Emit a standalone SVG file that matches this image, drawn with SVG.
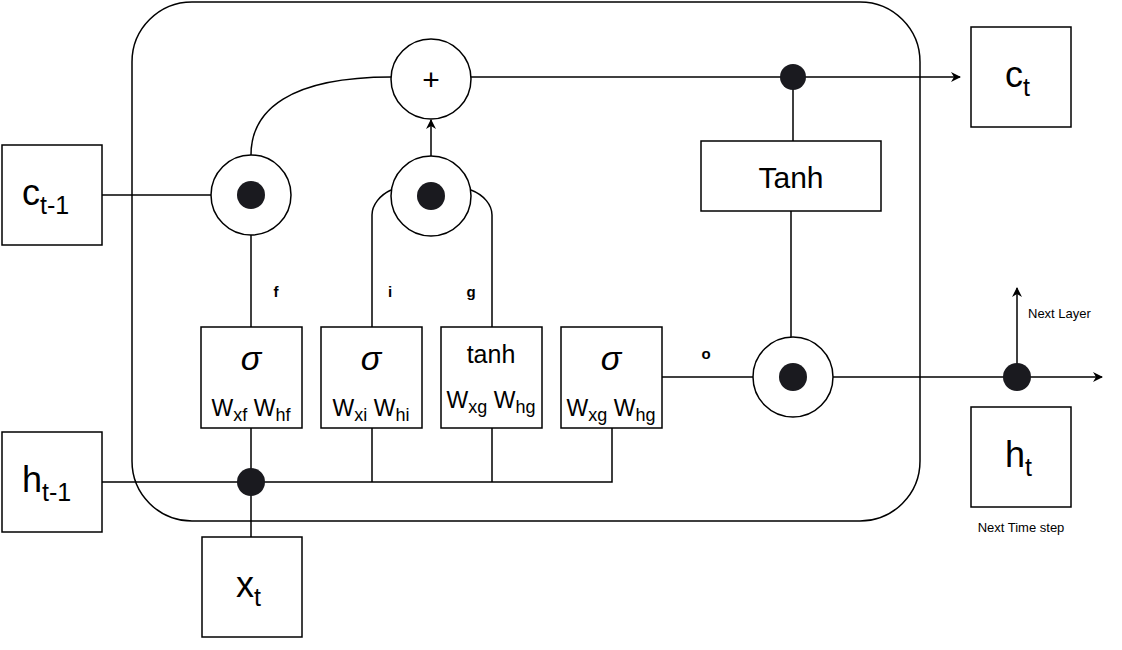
<svg xmlns="http://www.w3.org/2000/svg" width="1122" height="650" viewBox="0 0 1122 650">
<style>
.s{fill:#fff;stroke:#000;stroke-width:1.5}
.l{fill:none;stroke:#000;stroke-width:1.5}
.d{fill:#1a1a1f}
text{font-family:"Liberation Sans",Arial,sans-serif;fill:#000}
.b{font-size:36px}
.m{font-size:23px}
.g{font-size:34px;font-style:italic}
.sm{font-size:15px;font-weight:bold}
.t{font-size:13px}
</style>
<defs><marker id="a" markerWidth="10" markerHeight="10" refX="9" refY="5" orient="auto" markerUnits="userSpaceOnUse"><path d="M0,0 L10,5 L0,10 L3,5 Z" fill="#000"/></marker></defs>
<rect x="132" y="2" width="788" height="519" rx="60" class="s"/>
<g id="connectors" class="l">
<path d="M102,195 H211"/>
<path d="M251,155 C251,110 290,77 391,77"/>
<path d="M431,156 V120" marker-end="url(#a)"/>
<path d="M372,327 V215 C372,205 380,195 391,190"/>
<path d="M492,327 V215 C492,205 484,195 471,190"/>
<path d="M251,327 V235"/>
<path d="M471,77 H960" marker-end="url(#a)"/>
<path d="M793,77 V141 M791,211 V337"/>
<path d="M102,482 H612 V428 M372,428 V482 M492,428 V482 M251,428 V537"/>
<path d="M662,377 H753"/>
<path d="M833,377 H1102" marker-end="url(#a)"/>
<path d="M1017,377 V288" marker-end="url(#a)"/>
</g>
<g id="cprev"><rect x="2" y="145" width="100" height="100" class="s"/><text x="22" y="205" class="b">c<tspan font-size="25" dy="9">t-1</tspan></text></g>
<g id="hprev"><rect x="2" y="432" width="100" height="100" class="s"/><text x="22" y="492" class="b">h<tspan font-size="25" dy="9">t-1</tspan></text></g>
<g id="xt"><rect x="202" y="537" width="100" height="100" class="s"/><text x="236" y="597" class="b">x<tspan font-size="25" dy="9">t</tspan></text></g>
<g id="ct"><rect x="971" y="27" width="100" height="100" class="s"/><text x="1005" y="87" class="b">c<tspan font-size="25" dy="9">t</tspan></text></g>
<g id="ht"><rect x="971" y="407" width="100" height="100" class="s"/><text x="1005" y="467" class="b">h<tspan font-size="25" dy="9">t</tspan></text></g>
<g id="plus"><circle cx="431" cy="79" r="40" class="s"/><text x="431" y="90" text-anchor="middle" font-size="30">+</text></g>
<g id="mulf"><circle cx="251" cy="195" r="40" class="s"/><circle cx="251" cy="195" r="14" class="d"/></g>
<g id="muli"><circle cx="431" cy="196" r="40" class="s"/><circle cx="431" cy="196" r="14" class="d"/></g>
<g id="mulo"><circle cx="793" cy="377" r="40" class="s"/><circle cx="793" cy="377" r="14" class="d"/></g>
<g id="dots"><circle cx="793" cy="77" r="13" class="d"/><circle cx="251" cy="482" r="14" class="d"/><circle cx="1017" cy="377" r="14" class="d"/></g>
<g id="tanhbox"><rect x="701" y="141" width="180" height="70" class="s"/><text x="791" y="188" text-anchor="middle" font-size="30">Tanh</text></g>
<g id="fgate"><rect x="201" y="327" width="101" height="101" class="s"/><text x="251" y="370" text-anchor="middle" class="g">σ</text><text x="251" y="416" text-anchor="middle" class="m">W<tspan font-size="18" dy="5">xf</tspan><tspan dy="-5"> W</tspan><tspan font-size="18" dy="5">hf</tspan></text></g>
<g id="igate"><rect x="321" y="327" width="101" height="101" class="s"/><text x="371" y="370" text-anchor="middle" class="g">σ</text><text x="371" y="416" text-anchor="middle" class="m">W<tspan font-size="18" dy="5">xi</tspan><tspan dy="-5"> W</tspan><tspan font-size="18" dy="5">hi</tspan></text></g>
<g id="ggate"><rect x="441" y="327" width="101" height="101" class="s"/><text x="491" y="363" text-anchor="middle" font-size="25">tanh</text><text x="491" y="408" text-anchor="middle" class="m">W<tspan font-size="18" dy="5">xg</tspan><tspan dy="-5"> W</tspan><tspan font-size="18" dy="5">hg</tspan></text></g>
<g id="ogate"><rect x="561" y="327" width="101" height="101" class="s"/><text x="611" y="370" text-anchor="middle" class="g">σ</text><text x="611" y="416" text-anchor="middle" class="m">W<tspan font-size="18" dy="5">xg</tspan><tspan dy="-5"> W</tspan><tspan font-size="18" dy="5">hg</tspan></text></g>
<g id="labels">
<text x="276" y="297" class="sm" text-anchor="middle">f</text>
<text x="390" y="297" class="sm" text-anchor="middle">i</text>
<text x="471" y="297" class="sm" text-anchor="middle">g</text>
<text x="706" y="359" class="sm" text-anchor="middle">o</text>
<text x="1028" y="318" class="t">Next Layer</text>
<text x="1021" y="532" class="t" text-anchor="middle">Next Time step</text>
</g>
</svg>
